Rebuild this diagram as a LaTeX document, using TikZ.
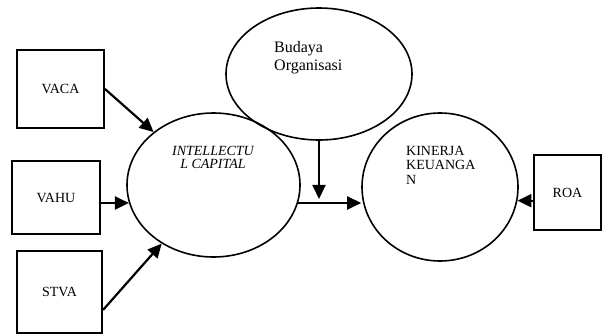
\documentclass[tikz,border=0pt]{standalone}
\usepackage{fontspec}
\setmainfont{Liberation Serif}
\usetikzlibrary{shapes.geometric,arrows.meta,calc}
\begin{document}
\begin{tikzpicture}[x=1pt,y=-1pt,
  box/.style={draw,line width=2pt,rectangle,inner sep=0pt,font=\fontsize{14}{14}\selectfont},
  oval/.style={draw,line width=1.6pt,ellipse,inner sep=0pt},
  lbl/.style={inner sep=0pt,align=left},
  arr/.style={line width=2.2pt,-{Triangle[length=14pt,width=13pt]}}]
\useasboundingbox (0,0) rectangle (602,335);
% boxes
\node[box,minimum width=87pt,minimum height=78pt] (vaca) at (60.5,89) {\raisebox{-2pt}{VACA}};
\node[box,minimum width=88pt,minimum height=73pt] (vahu) at (56,197.5) {VAHU};
\node[box,minimum width=85pt,minimum height=82pt] (stva) at (59.5,292) {\raisebox{-3pt}{STVA}};
\node[box,minimum width=67pt,minimum height=75pt] (roa) at (567.5,192.5) {ROA};
% ellipses
\node[oval,minimum width=173pt,minimum height=144pt] (ic) at (213.5,185) {};
\node[oval,minimum width=186pt,minimum height=132pt] (bo) at (319,74) {};
\node[oval,minimum width=156pt,minimum height=148pt] (ki) at (440,187) {};
% texts
\node[lbl,align=center,anchor=north,font=\fontsize{14}{13}\selectfont\itshape] (ictext) at (213,146.5) {INTELLECTU\\L CAPITAL};
\node[lbl,anchor=north west,font=\fontsize{16}{18}\selectfont] (botext) at (274,41) {Budaya\\Organisasi};
\node[lbl,anchor=north west,font=\fontsize{14}{14.5}\selectfont] (kitext) at (406,146) {KINERJA\\KEUANGA\\N};
% connectors
\draw[arr] (vaca.east) -- (ic);
\draw[arr] (vahu.east |- ic.192) -- (ic.192);
\draw[arr] ([yshift=-18pt]stva.east) -- (ic);
\draw[arr] (ic.-12) -- (ic.-12 -| ki.west);
\draw[arr] (bo.south) -- ($(bo.south |- ic.-12)+(0,-4)$);
\draw[arr] (roa.west |- ki.-10) -- (ki.-10);
\end{tikzpicture}
\end{document}
